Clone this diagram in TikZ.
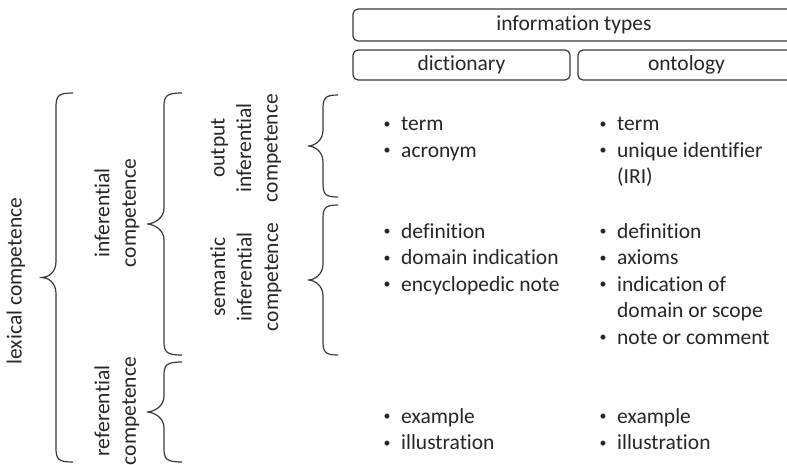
\documentclass[tikz,border=0pt]{standalone}
\usepackage{fontspec}
\usepackage{graphicx}
\setmainfont{Carlito}[Ligatures={NoCommon}]
\definecolor{ink}{HTML}{262626}
\definecolor{linec}{HTML}{3A3A3A}
\tikzset{
  txt/.style={text=ink, font=\fontsize{21.5}{26.5}\selectfont, inner sep=0pt},
  box/.style={draw=linec, line width=1.2pt, rounded corners=5pt, inner sep=0pt,
              text=ink, font=\fontsize{21.5}{26}\selectfont},
  vlab/.style={txt, rotate=90, align=center},
  list/.style={txt, anchor=base west},
  bracestyle/.style={draw=linec, line width=1.2pt},
}
\newcommand\blt{\makebox[19pt][l]{\hspace{1.5pt}\raisebox{2.5pt}{\scalebox{0.65}{•}}}}
% #1 = x of vertical line, #2 = top y, #3 = bottom y, #4 = curl width, #5 = tip depth
\newcommand\drawcbrace[5]{%
  \pgfmathsetmacro\brmid{(#2+#3)/2}%
  \draw[bracestyle] ({#1+#4},#2) .. controls ({#1+2},#2) and ({#1},{#2+3}) .. ({#1},{#2+14})
    -- ({#1},{\brmid-16}) .. controls ({#1},{\brmid-5}) and ({#1-#5+6},\brmid) .. ({#1-#5},\brmid)
    .. controls ({#1-#5+6},\brmid) and ({#1},{\brmid+5}) .. ({#1},{\brmid+16})
    -- ({#1},{#3-14}) .. controls ({#1},{#3-3}) and ({#1+2},#3) .. ({#1+#4},#3);}
\begin{document}
\begin{tikzpicture}[x=1pt,y=-1pt]
\useasboundingbox (0,0) rectangle (787,464);
% header boxes
\node[box, minimum width=442pt, minimum height=32pt] (info) at (574,25) {information types};
\node[box, minimum width=217pt, minimum height=30pt] (dict) at (461.5,65) {dictionary};
\node[box, minimum width=217pt, minimum height=30pt] (onto) at (686.5,65) {ontology};
% braces
\drawcbrace{56}{93}{462}{17}{14}
\drawcbrace{164}{93}{355}{18}{17}
\drawcbrace{164}{362}{462}{18}{17}
\drawcbrace{323}{95}{197}{15}{15}
\drawcbrace{323}{205}{355}{15}{15}
% rotated labels
\node[vlab] (lex) at (16,281) {lexical competence};
\node[vlab] (inf) at (117,213) {inferential\\competence};
\node[vlab] (ref) at (117,411) {referential\\competence};
\node[vlab] (out) at (246,148) {output\\inferential\\competence};
\node[vlab] (sem) at (246,277) {semantic\\inferential\\competence};
% lists
\node[list] (d1) at (382,130.5) {\begin{tabular}[t]{@{}l@{}}\blt term\\\blt acronym\end{tabular}};
\node[list] (o1) at (598,130.5) {\begin{tabular}[t]{@{}l@{}}\blt term\\\blt unique identifier\\\hspace{19pt}(IRI)\end{tabular}};
\node[list] (d2) at (382,238) {\begin{tabular}[t]{@{}l@{}}\blt definition\\\blt domain indication\\\blt encyclopedic note\end{tabular}};
\node[list] (o2) at (598,238) {\begin{tabular}[t]{@{}l@{}}\blt definition\\\blt axioms\\\blt indication of\\\hspace{19pt}domain or scope\\\blt note or comment\end{tabular}};
\node[list] (d3) at (382,423) {\begin{tabular}[t]{@{}l@{}}\blt example\\\blt illustration\end{tabular}};
\node[list] (o3) at (598,423) {\begin{tabular}[t]{@{}l@{}}\blt example\\\blt illustration\end{tabular}};
\end{tikzpicture}
\end{document}
